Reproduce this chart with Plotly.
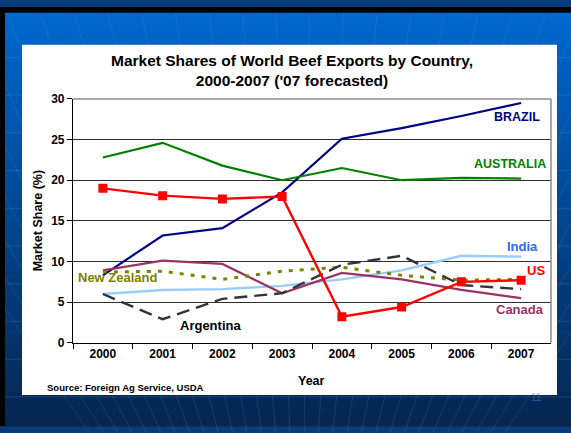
import plotly.graph_objects as go

W, H = 571, 433

# Market share (%) of world beef exports, 2000-2007 ('07 forecast)
years = ["2000", "2001", "2002", "2003", "2004", "2005", "2006", "2007"]
brazil = [8.3, 13.2, 14.1, 18.5, 25.1, 26.4, 27.9, 29.5]
australia = [22.8, 24.6, 21.8, 20.0, 21.5, 20.0, 20.3, 20.2]
india = [6.0, 6.5, 6.6, 7.0, 7.8, 8.9, 10.7, 10.6]
canada = [8.9, 10.1, 9.7, 6.1, 8.6, 7.8, 6.5, 5.5]
new_zealand = [8.7, 8.8, 7.8, 8.8, 9.3, 8.3, 7.7, 7.8]
argentina = [6.0, 2.9, 5.4, 6.1, 9.6, 10.7, 7.1, 6.6]
us = [19.0, 18.1, 17.7, 18.0, 3.2, 4.4, 7.5, 7.7]


def px(x):
    return x / W


def py(y):
    return 1 - y / H


fig = go.Figure()

series = [
    ("Brazil", brazil, dict(color="#000080", width=2.2), None),
    ("Australia", australia, dict(color="#008000", width=2.2), None),
    ("India", india, dict(color="#99CCFF", width=2.4), None),
    ("Canada", canada, dict(color="#993366", width=2.2), None),
    ("New Zealand", new_zealand, dict(color="#808000", width=3, dash="4px,7px"), None),
    ("Argentina", argentina, dict(color="#333333", width=2.4, dash="13px,7px"), None),
    ("US", us, dict(color="#FF0000", width=2.4), dict(symbol="square", size=9, color="#FF0000")),
]
for name, vals, line, marker in series:
    fig.add_trace(go.Scatter(
        x=years, y=vals, name=name,
        mode="lines+markers" if marker else "lines",
        line=line, marker=marker, showlegend=False, hoverinfo="x+y+name",
    ))

shapes = []

# slide background: vertical blue gradient
top_c = (0, 104, 208)
bot_c = (5, 38, 80)
n = 60
for i in range(n):
    t = i / (n - 1)
    c = tuple(int(round(top_c[k] + (bot_c[k] - top_c[k]) * t)) for k in range(3))
    y0 = H * i / n
    y1 = H * (i + 1) / n + 0.6
    shapes.append(dict(type="rect", xref="paper", yref="paper", layer="below",
                       x0=0, x1=1, y0=py(y1), y1=py(y0),
                       fillcolor=f"rgb{c}", line=dict(width=0)))

# faint horizontal bands and converging rays of the slide pattern
for yy in range(52, 433, 39):
    shapes.append(dict(type="line", xref="paper", yref="paper", layer="below",
                       x0=0, x1=1, y0=py(yy), y1=py(yy),
                       line=dict(color="rgba(120,170,235,0.18)", width=1)))
cx, cy = 300, 760
for bx in range(-200, 800, 34):
    shapes.append(dict(type="line", xref="paper", yref="paper", layer="below",
                       x0=px(cx), y0=py(cy), x1=px(bx), y1=py(0),
                       line=dict(color="rgba(120,170,235,0.16)", width=1)))

# black frame on the top and left edges
shapes.append(dict(type="rect", xref="paper", yref="paper", layer="below",
                   x0=0, x1=1, y0=py(6), y1=1, fillcolor="black", line=dict(width=0)))
shapes.append(dict(type="rect", xref="paper", yref="paper", layer="below",
                   x0=0, x1=px(5), y0=0, y1=1, fillcolor="black", line=dict(width=0)))

# white chart panel
shapes.append(dict(type="rect", xref="paper", yref="paper", layer="below",
                   x0=px(22), x1=px(557), y0=py(401), y1=py(39),
                   fillcolor="white", line=dict(width=0)))

# grey border on top and right of the plot area
shapes.append(dict(type="line", xref="paper", yref="paper",
                   x0=px(73), x1=px(551), y0=py(95), y1=py(95),
                   line=dict(color="#8c8c8c", width=1.5)))
shapes.append(dict(type="line", xref="paper", yref="paper",
                   x0=px(551), x1=px(551), y0=py(95), y1=py(347),
                   line=dict(color="#8c8c8c", width=1.5)))

FONT = "Liberation Sans, Arial, sans-serif"

annotations = [
    dict(text="Market Shares of World Beef Exports by Country,<br>2000-2007 ('07 forecasted)",
         x=px(292), y=py(65.5), xref="paper", yref="paper", showarrow=False,
         xanchor="center", yanchor="middle",
         font=dict(family=FONT, size=15.5, color="black", weight="bold")),
    dict(text="Market Share (%)", x=px(37.5), y=py(221), xref="paper", yref="paper",
         showarrow=False, textangle=-90, xanchor="center", yanchor="middle",
         font=dict(family=FONT, size=12.5, color="black", weight="bold")),
    dict(text="Year", x=px(312), y=py(387), xref="paper", yref="paper",
         showarrow=False, xanchor="center", yanchor="middle",
         font=dict(family=FONT, size=12.5, color="black", weight="bold")),
    dict(text="Source: Foreign Ag Service, USDA", x=px(45), y=py(393.5), xref="paper", yref="paper",
         showarrow=False, xanchor="left", yanchor="middle",
         font=dict(family=FONT, size=9.5, color="black", weight="bold")),
    dict(text="11", x=px(536), y=py(404), xref="paper", yref="paper",
         showarrow=False, xanchor="center", yanchor="middle",
         font=dict(family=FONT, size=10, color="rgba(70,120,200,0.6)")),
]

labels = [
    ("BRAZIL", 516.5, 114, "#000080", 12.5),
    ("AUSTRALIA", 509.5, 162, "#008000", 12.5),
    ("India", 522.5, 247, "#3366FF", 13),
    ("US", 536, 272, "#FF0000", 13),
    ("Canada", 520, 313, "#993366", 13),
    ("New Zealand", 118, 280, "#808000", 13),
    ("Argentina", 210.5, 329, "black", 13),
]
for txt, x, y, col, sz in labels:
    annotations.append(dict(text=txt, x=px(x), y=py(y), xref="paper", yref="paper",
                            showarrow=False, xanchor="center", yanchor="middle",
                            font=dict(family=FONT, size=sz, color=col, weight="bold")))

fig.update_layout(
    width=W, height=H,
    margin=dict(l=0, r=0, t=0, b=0, pad=0),
    paper_bgcolor="#0a3a78",
    plot_bgcolor="white",
    font=dict(family=FONT, color="black"),
    shapes=shapes,
    annotations=annotations,
    showlegend=False,
    xaxis=dict(
        domain=[px(73), px(551)],
        type="category", range=[-0.5, 7.5],
        showline=True, linecolor="black", linewidth=1.2,
        ticks="outside", tickson="boundaries", ticklen=5, tickcolor="black", tickwidth=1.2,
        showgrid=False, zeroline=False,
        tickfont=dict(family=FONT, size=12, color="black", weight="bold"),
    ),
    yaxis=dict(
        domain=[py(347), py(95)],
        range=[0, 30], dtick=5, tick0=0,
        showline=True, linecolor="black", linewidth=1.2,
        ticks="outside", ticklen=5, tickcolor="black", tickwidth=1.2,
        showgrid=True, gridcolor="#2e2e2e", gridwidth=1,
        zeroline=False,
        tickfont=dict(family=FONT, size=12, color="black", weight="bold"),
    ),
)

fig.write_html("out.html")
